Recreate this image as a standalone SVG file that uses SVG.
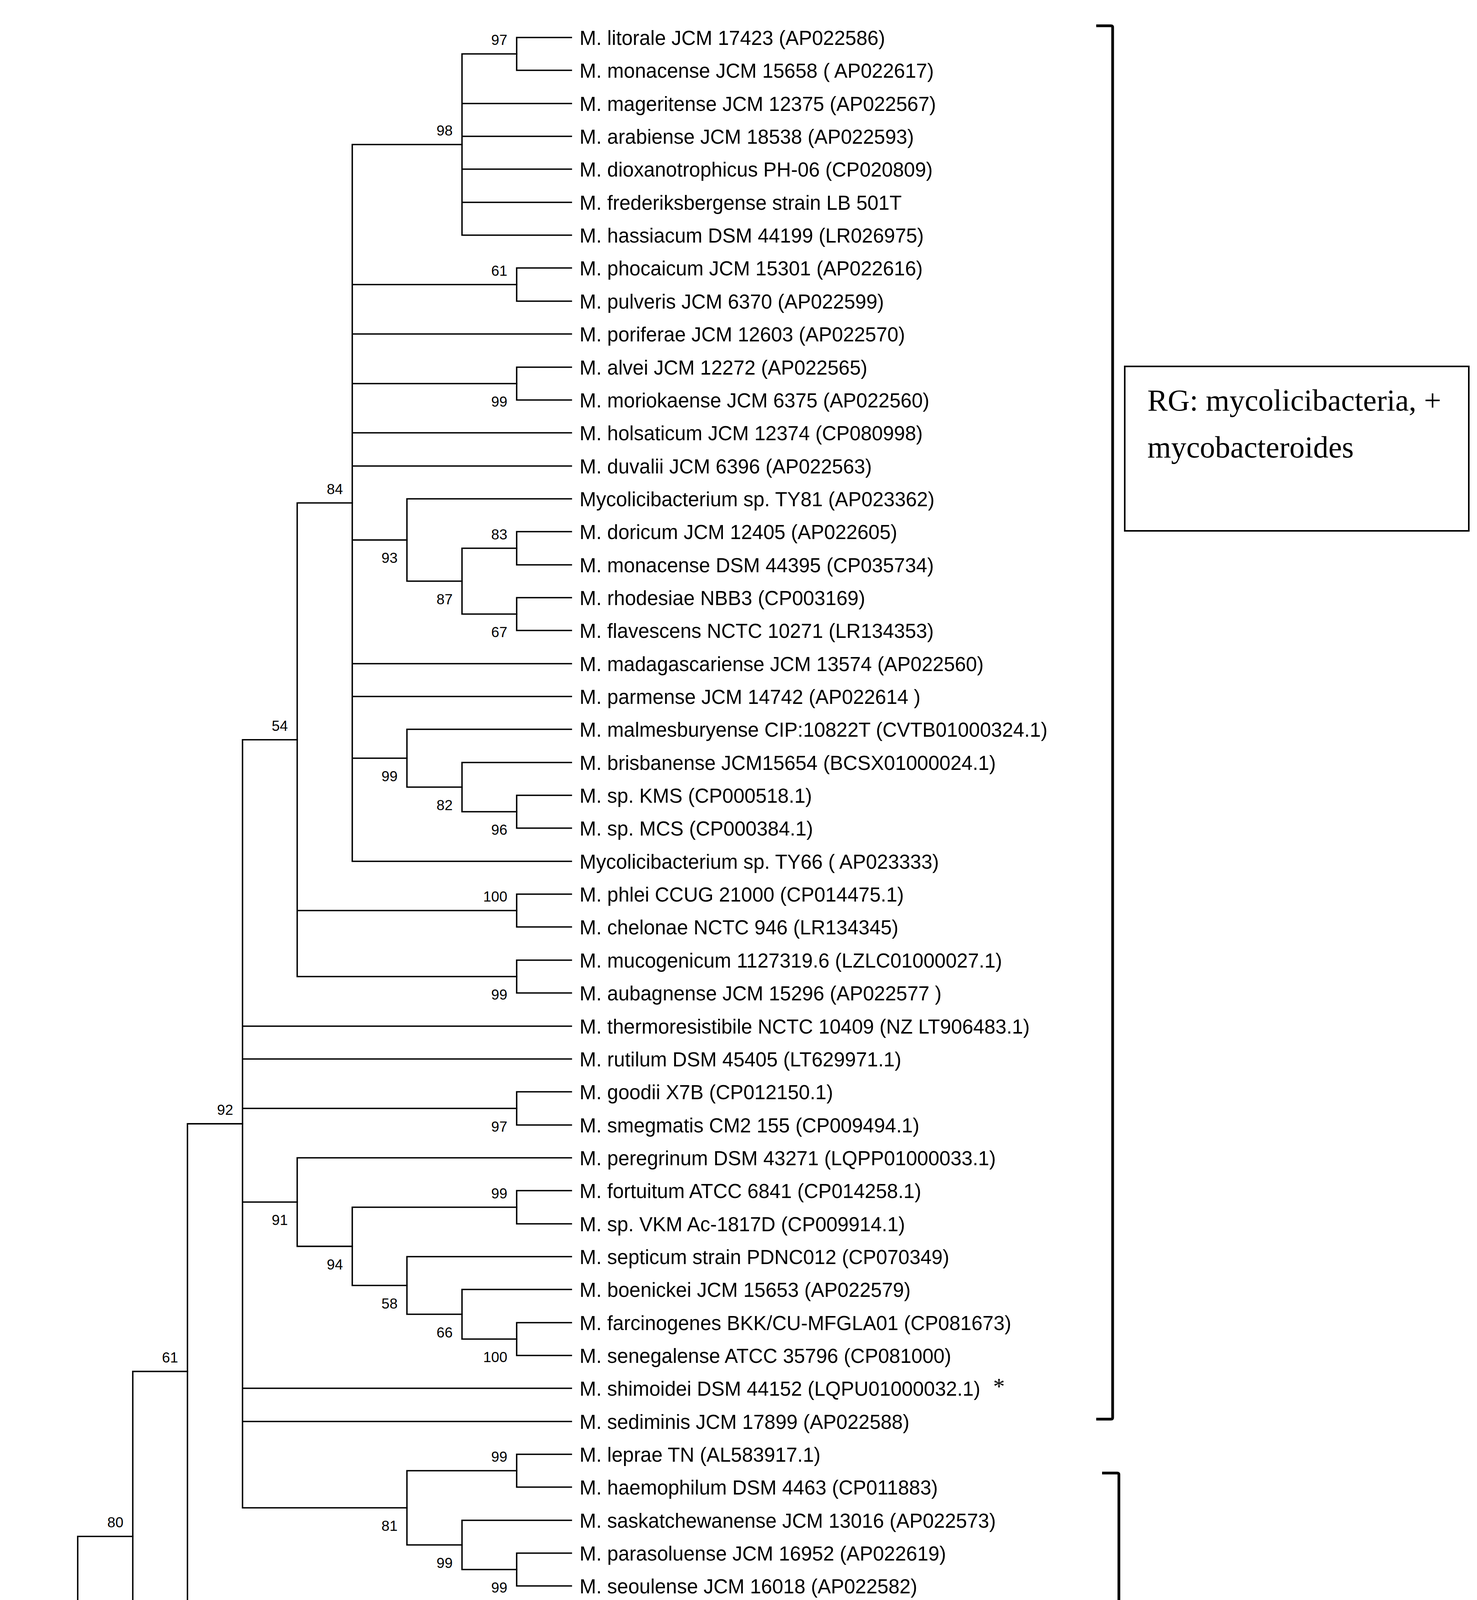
<svg xmlns="http://www.w3.org/2000/svg" width="3782" height="5073" viewBox="0 0 3782 5073">
<style>
.br{fill:none;stroke:#000;stroke-width:3.6;stroke-linecap:square}
.lf{font-family:"Liberation Sans",Arial,sans-serif;font-size:51px;fill:#000}
.bs{font-family:"Liberation Sans",Arial,sans-serif;font-size:37px;fill:#000;text-anchor:end}
.bk{fill:none;stroke:#000;stroke-width:7}
.box{fill:none;stroke:#000;stroke-width:4}
.bt{font-family:"Liberation Serif","Times New Roman",serif;font-size:78px;fill:#000}
</style>
<rect width="3782" height="5073" fill="#fff"/>
<g id="connectors">
<path class="br" d="M1323 96V180M1323 96H1463M1323 180H1463"/>
<path class="br" d="M1183 138V602M1183 138H1323M1183 265H1463M1183 349H1463M1183 433H1463M1183 518H1463M1183 602H1463"/>
<path class="br" d="M1323 686V771M1323 686H1463M1323 771H1463"/>
<path class="br" d="M1323 940V1024M1323 940H1463M1323 1024H1463"/>
<path class="br" d="M1323 1361V1446M1323 1361H1463M1323 1446H1463"/>
<path class="br" d="M1323 1530V1614M1323 1530H1463M1323 1614H1463"/>
<path class="br" d="M1183 1403.5V1572M1183 1403.5H1323M1183 1572H1323"/>
<path class="br" d="M1042 1277V1487.75M1042 1277H1463M1042 1487.75H1183"/>
<path class="br" d="M1323 2036V2120M1323 2036H1463M1323 2120H1463"/>
<path class="br" d="M1183 1952V2078M1183 1952H1463M1183 2078H1323"/>
<path class="br" d="M1042 1867V2015M1042 1867H1463M1042 2015H1183"/>
<path class="br" d="M902 370V2205M902 370H1183M902 728.5H1323M902 855H1463M902 982H1323M902 1108H1463M902 1193H1463M902 1382.4H1042M902 1699H1463M902 1783H1463M902 1941H1042M902 2205H1463"/>
<path class="br" d="M1323 2289V2373M1323 2289H1463M1323 2373H1463"/>
<path class="br" d="M1323 2458V2542M1323 2458H1463M1323 2542H1463"/>
<path class="br" d="M761 1287.5V2500M761 1287.5H902M761 2331H1323M761 2500H1323"/>
<path class="br" d="M1323 2795V2880M1323 2795H1463M1323 2880H1463"/>
<path class="br" d="M1323 3048V3133M1323 3048H1463M1323 3133H1463"/>
<path class="br" d="M1323 3386V3470M1323 3386H1463M1323 3470H1463"/>
<path class="br" d="M1183 3301V3428M1183 3301H1463M1183 3428H1323"/>
<path class="br" d="M1042 3217V3364.5M1042 3217H1463M1042 3364.5H1183"/>
<path class="br" d="M902 3090.5V3290.75M902 3090.5H1323M902 3290.75H1042"/>
<path class="br" d="M761 2964V3190.6M761 2964H1463M761 3190.6H902"/>
<path class="br" d="M1323 3723V3807M1323 3723H1463M1323 3807H1463"/>
<path class="br" d="M1323 3976V4060M1323 3976H1463M1323 4060H1323H1463"/>
<path class="br" d="M1183 3892V4018M1183 3892H1463M1183 4018H1323"/>
<path class="br" d="M1042 3765V3955M1042 3765H1323M1042 3955H1183"/>
<path class="br" d="M621 1893.75V3860M621 1893.75H761M621 2627H1463M621 2711H1463M621 2837.5H1323M621 3077.3H761M621 3554H1463M621 3639H1463M621 3860H1042"/>
<path class="br" d="M480 2876.9V4145M480 2876.9H621M480 4145H1463"/>
<path class="br" d="M1323 4229V4314M1323 4229H1463M1323 4314H1463"/>
<path class="br" d="M1323 4398V4482M1323 4398H1463M1323 4482H1463"/>
<path class="br" d="M1183 4271.5V4440M1183 4271.5H1323M1183 4440H1323"/>
<path class="br" d="M340 3510.9V4355.75M340 3510.9H480M340 4355.75H1183"/>
<path class="br" d="M1323 4567V4651M1323 4567H1463M1323 4651H1463"/>
<path class="br" d="M199 3933.3V4735M199 3933.3H340M199 4609H1323M199 4735H1463"/>
<path class="br" d="M59 4334.2V4904M59 4334.2H199M59 4820H1463M59 4904H1463"/>
</g>
<g id="support-values">
<text class="bs" x="1299" y="115">97</text>
<text class="bs" x="1159" y="347">98</text>
<text class="bs" x="1299" y="705.5">61</text>
<text class="bs" x="1299" y="1041">99</text>
<text class="bs" x="878" y="1264.5">84</text>
<text class="bs" x="1299" y="1380.5">83</text>
<text class="bs" x="1018" y="1441.4">93</text>
<text class="bs" x="1159" y="1546.75">87</text>
<text class="bs" x="1299" y="1631">67</text>
<text class="bs" x="737" y="1870.75">54</text>
<text class="bs" x="1018" y="2000">99</text>
<text class="bs" x="1159" y="2074">82</text>
<text class="bs" x="1299" y="2137">96</text>
<text class="bs" x="1299" y="2308">100</text>
<text class="bs" x="1299" y="2559">99</text>
<text class="bs" x="597" y="2853.9">92</text>
<text class="bs" x="1299" y="2896.5">97</text>
<text class="bs" x="1299" y="3067.5">99</text>
<text class="bs" x="737" y="3136.3">91</text>
<text class="bs" x="878" y="3249.6">94</text>
<text class="bs" x="1018" y="3349.75">58</text>
<text class="bs" x="1159" y="3423.5">66</text>
<text class="bs" x="1299" y="3487">100</text>
<text class="bs" x="456" y="3487.9">61</text>
<text class="bs" x="1299" y="3742">99</text>
<text class="bs" x="1018" y="3919">81</text>
<text class="bs" x="316" y="3910.3">80</text>
<text class="bs" x="1159" y="4014">99</text>
<text class="bs" x="1299" y="4077">99</text>
<text class="bs" x="1299" y="4248.5">93</text>
<text class="bs" x="175" y="4311.2">75</text>
<text class="bs" x="1159" y="4414.75">86</text>
<text class="bs" x="1299" y="4499">80</text>
<text class="bs" x="1299" y="4668">61</text>
</g>
<g id="leaves">
<g id="leaf01"><text class="lf" x="1484" y="115">M. litorale JCM 17423 (AP022586)</text></g>
<g id="leaf02"><text class="lf" x="1484" y="199">M. monacense JCM 15658 ( AP022617)</text></g>
<g id="leaf03"><text class="lf" x="1484" y="284">M. mageritense JCM 12375 (AP022567)</text></g>
<g id="leaf04"><text class="lf" x="1484" y="368">M. arabiense JCM 18538 (AP022593)</text></g>
<g id="leaf05"><text class="lf" x="1484" y="452">M. dioxanotrophicus PH-06 (CP020809)</text></g>
<g id="leaf06"><text class="lf" x="1484" y="537">M. frederiksbergense strain LB 501T</text></g>
<g id="leaf07"><text class="lf" x="1484" y="621">M. hassiacum DSM 44199 (LR026975)</text></g>
<g id="leaf08"><text class="lf" x="1484" y="705">M. phocaicum JCM 15301 (AP022616)</text></g>
<g id="leaf09"><text class="lf" x="1484" y="790">M. pulveris JCM 6370 (AP022599)</text></g>
<g id="leaf10"><text class="lf" x="1484" y="874">M. poriferae JCM 12603 (AP022570)</text></g>
<g id="leaf11"><text class="lf" x="1484" y="959">M. alvei JCM 12272 (AP022565)</text></g>
<g id="leaf12"><text class="lf" x="1484" y="1043">M. moriokaense JCM 6375 (AP022560)</text></g>
<g id="leaf13"><text class="lf" x="1484" y="1127">M. holsaticum JCM 12374 (CP080998)</text></g>
<g id="leaf14"><text class="lf" x="1484" y="1212">M. duvalii JCM 6396 (AP022563)</text></g>
<g id="leaf15"><text class="lf" x="1484" y="1296">Mycolicibacterium sp. TY81 (AP023362)</text></g>
<g id="leaf16"><text class="lf" x="1484" y="1380">M. doricum JCM 12405 (AP022605)</text></g>
<g id="leaf17"><text class="lf" x="1484" y="1465">M. monacense DSM 44395 (CP035734)</text></g>
<g id="leaf18"><text class="lf" x="1484" y="1549">M. rhodesiae NBB3 (CP003169)</text></g>
<g id="leaf19"><text class="lf" x="1484" y="1633">M. flavescens NCTC 10271 (LR134353)</text></g>
<g id="leaf20"><text class="lf" x="1484" y="1718">M. madagascariense JCM 13574 (AP022560)</text></g>
<g id="leaf21"><text class="lf" x="1484" y="1802">M. parmense JCM 14742 (AP022614 )</text></g>
<g id="leaf22"><text class="lf" x="1484" y="1886">M. malmesburyense CIP:10822T (CVTB01000324.1)</text></g>
<g id="leaf23"><text class="lf" x="1484" y="1971">M. brisbanense JCM15654 (BCSX01000024.1)</text></g>
<g id="leaf24"><text class="lf" x="1484" y="2055">M. sp. KMS (CP000518.1)</text></g>
<g id="leaf25"><text class="lf" x="1484" y="2139">M. sp. MCS (CP000384.1)</text></g>
<g id="leaf26"><text class="lf" x="1484" y="2224">Mycolicibacterium sp. TY66 ( AP023333)</text></g>
<g id="leaf27"><text class="lf" x="1484" y="2308">M. phlei CCUG 21000 (CP014475.1)</text></g>
<g id="leaf28"><text class="lf" x="1484" y="2392">M. chelonae NCTC 946 (LR134345)</text></g>
<g id="leaf29"><text class="lf" x="1484" y="2477">M. mucogenicum 1127319.6 (LZLC01000027.1)</text></g>
<g id="leaf30"><text class="lf" x="1484" y="2561">M. aubagnense JCM 15296 (AP022577 )</text></g>
<g id="leaf31"><text class="lf" x="1484" y="2646">M. thermoresistibile NCTC 10409 (NZ LT906483.1)</text></g>
<g id="leaf32"><text class="lf" x="1484" y="2730">M. rutilum DSM 45405 (LT629971.1)</text></g>
<g id="leaf33"><text class="lf" x="1484" y="2814">M. goodii X7B (CP012150.1)</text></g>
<g id="leaf34"><text class="lf" x="1484" y="2899">M. smegmatis CM2 155 (CP009494.1)</text></g>
<g id="leaf35"><text class="lf" x="1484" y="2983">M. peregrinum DSM 43271 (LQPP01000033.1)</text></g>
<g id="leaf36"><text class="lf" x="1484" y="3067">M. fortuitum ATCC 6841 (CP014258.1)</text></g>
<g id="leaf37"><text class="lf" x="1484" y="3152">M. sp. VKM Ac-1817D (CP009914.1)</text></g>
<g id="leaf38"><text class="lf" x="1484" y="3236">M. septicum strain PDNC012 (CP070349)</text></g>
<g id="leaf39"><text class="lf" x="1484" y="3320">M. boenickei JCM 15653 (AP022579)</text></g>
<g id="leaf40"><text class="lf" x="1484" y="3405">M. farcinogenes BKK/CU-MFGLA01 (CP081673)</text></g>
<g id="leaf41"><text class="lf" x="1484" y="3489">M. senegalense ATCC 35796 (CP081000)</text></g>
<g id="leaf42"><text class="lf" x="1484" y="3573">M. shimoidei DSM 44152 (LQPU01000032.1)</text><text x="2543" y="3569" style="font-family:'Liberation Serif',serif;font-size:60px">*</text></g>
<g id="leaf43"><text class="lf" x="1484" y="3658">M. sediminis JCM 17899 (AP022588)</text></g>
<g id="leaf44"><text class="lf" x="1484" y="3742">M. leprae TN (AL583917.1)</text></g>
<g id="leaf45"><text class="lf" x="1484" y="3826">M. haemophilum DSM 4463 (CP011883)</text></g>
<g id="leaf46"><text class="lf" x="1484" y="3911">M. saskatchewanense JCM 13016 (AP022573)</text></g>
<g id="leaf47"><text class="lf" x="1484" y="3995">M. parasoluense JCM 16952 (AP022619)</text></g>
<g id="leaf48"><text class="lf" x="1484" y="4079">M. seoulense JCM 16018 (AP022582)</text></g>
<g id="leaf49"><text class="lf" x="1484" y="4164">M. paragordonae 49061 (CP025546)</text></g>
<g id="leaf50"><text class="lf" x="1484" y="4248">M. liflandii 128FXT (CP003899.1)</text></g>
<g id="leaf51"><text class="lf" x="1484" y="4333">M. marinum (HG917972.2)</text></g>
<g id="leaf52"><text class="lf" x="1484" y="4417">M.ulcerans subsp. shinshuense ATCC 33728 (AP017635.1)</text></g>
<g id="leaf53"><text class="lf" x="1484" y="4501">M. pseudoshottsii JCM 15466 (JCM 15466)</text></g>
<g id="leaf54"><text class="lf" x="1484" y="4586">M. szulgai NLA000501479 (FJ014490.1)</text></g>
<g id="leaf55"><text class="lf" x="1484" y="4670">M. kubicae JCM 13573 (CP065047)</text></g>
<g id="leaf56"><text class="lf" x="1484" y="4754">M. kansasii ATCC 12478 (CP006835.1)</text></g>
<g id="leaf57"><text class="lf" x="1484" y="4839">M. shinjukuense JCM 14233 (AP022575)</text></g>
<g id="leaf58"><text class="lf" x="1484" y="4923">M. bovis AF2122/97 (LT708304.1)</text></g>
</g>
<g id="group-RG">
<path class="bk" d="M2807 66H2845Q2849 66 2849 70V3629Q2849 3633 2845 3633H2807"/>
<rect class="box" x="2880" y="938" width="881" height="421"/>
<text class="bt" x="2938" y="1051">RG: mycolicibacteria, +</text>
<text class="bt" x="2938" y="1171">mycobacteroides</text>
</g>
<g id="group-SG">
<path class="bk" d="M2822 3771H2861Q2865 3771 2865 3775V5010Q2865 5014 2861 5014H2822"/>
<rect class="box" x="2949" y="4241" width="776" height="297"/>
<text class="bt" x="3005" y="4358">SG: mycobacteria</text>
</g>
</svg>
